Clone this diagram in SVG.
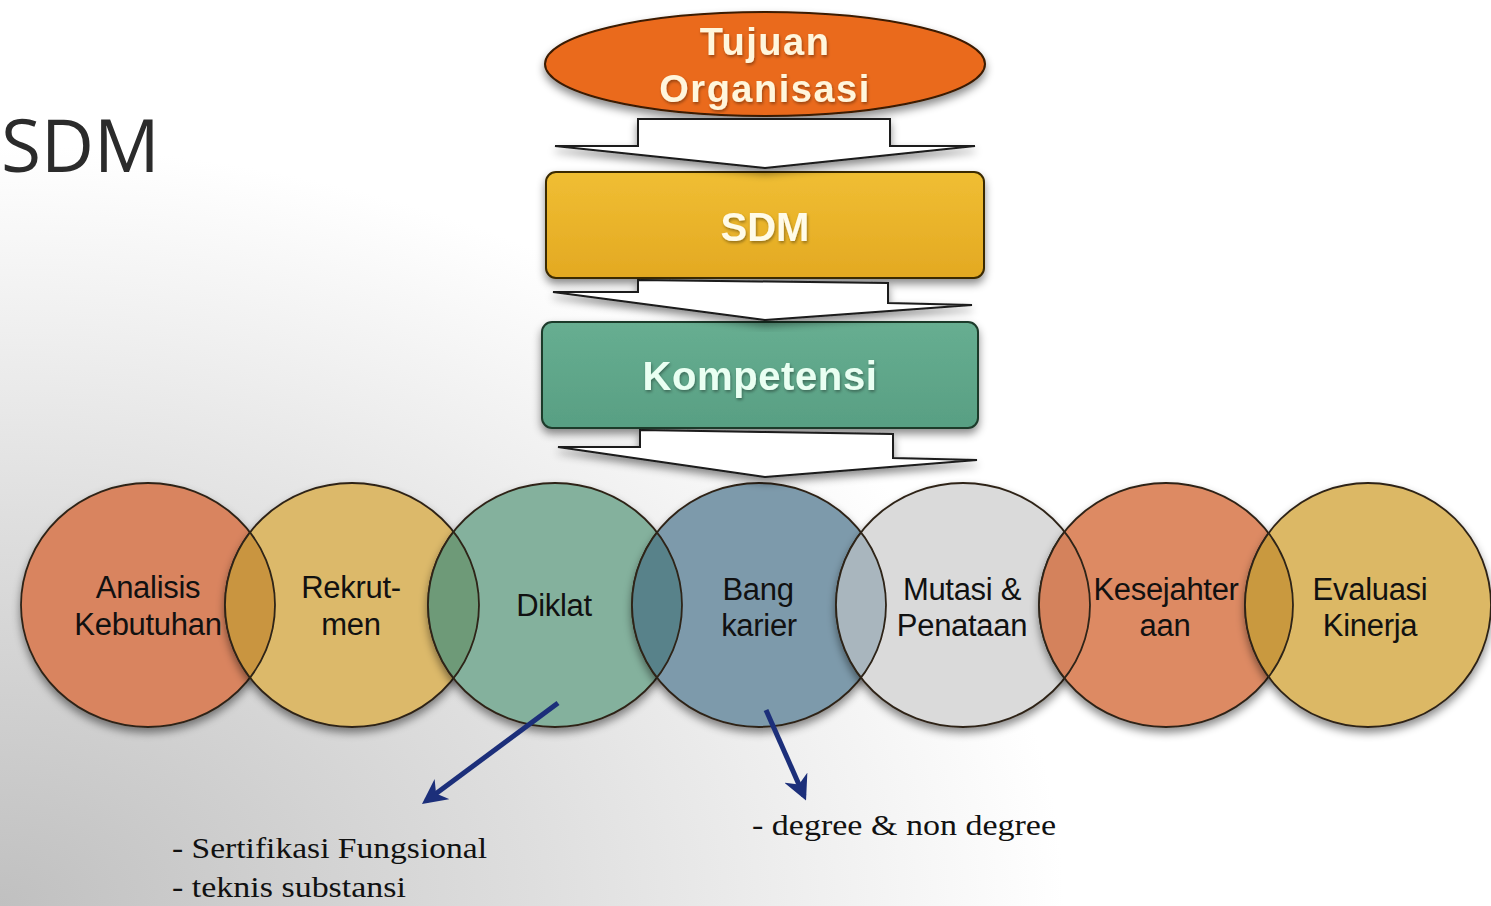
<svg xmlns="http://www.w3.org/2000/svg" width="1491" height="906" viewBox="0 0 1491 906">
<style>
.ct{font-family:"Liberation Sans",Arial,sans-serif;font-size:31px;fill:#111;text-anchor:middle;letter-spacing:-0.3px}
.bt{font-family:"Liberation Sans",Arial,sans-serif;font-weight:bold;text-anchor:middle}
.st{font-family:"Liberation Serif","Times New Roman",serif;font-size:29px;fill:#111}
.ol{stroke:#2e2418;stroke-width:1.8}
.blk{fill:#fff;stroke:#1a1a1a;stroke-width:2;stroke-linejoin:miter}
.ba{stroke:#1c2f7a;stroke-width:5;fill:none;marker-end:url(#ah)}
</style>
<defs>
<radialGradient id="bg" gradientUnits="userSpaceOnUse" cx="0" cy="906" r="760" gradientTransform="translate(0 906) scale(1.4 1) translate(0 -906)">
<stop offset="0" stop-color="#c0c0c0"/>
<stop offset="0.5" stop-color="#dedede"/>
<stop offset="1" stop-color="#ffffff"/>
</radialGradient>
<linearGradient id="gy" x1="0" y1="0" x2="0" y2="1">
<stop offset="0" stop-color="#f0be33"/>
<stop offset="1" stop-color="#e3a922"/>
</linearGradient>
<linearGradient id="gg" x1="0" y1="0" x2="0" y2="1">
<stop offset="0" stop-color="#67ae91"/>
<stop offset="1" stop-color="#589f83"/>
</linearGradient>
<filter id="sh" x="-20%" y="-20%" width="140%" height="150%">
<feDropShadow dx="0" dy="5" stdDeviation="4" flood-color="#000" flood-opacity="0.45"/>
</filter>
<filter id="ts" x="-10%" y="-30%" width="120%" height="160%">
<feDropShadow dx="1" dy="2" stdDeviation="1.5" flood-color="#000" flood-opacity="0.35"/>
</filter>
<marker id="ah" viewBox="0 0 10 10" refX="8" refY="5" markerWidth="5" markerHeight="5" orient="auto" markerUnits="strokeWidth">
<path d="M0,0 L10,5 L0,10 L3,5 z" fill="#1c2f7a"/>
</marker>
<clipPath id="c1"><ellipse cx="148" cy="605" rx="127" ry="122"/></clipPath>
<clipPath id="c2"><ellipse cx="352" cy="605" rx="127" ry="122"/></clipPath>
<clipPath id="c3"><ellipse cx="555" cy="605" rx="127" ry="122"/></clipPath>
<clipPath id="c4"><ellipse cx="759" cy="605" rx="127" ry="122"/></clipPath>
<clipPath id="c5"><ellipse cx="963" cy="605" rx="127" ry="122"/></clipPath>
<clipPath id="c6"><ellipse cx="1166" cy="605" rx="127" ry="122"/></clipPath>
<clipPath id="c7"><ellipse cx="1368" cy="605" rx="123" ry="122"/></clipPath>
</defs>

<rect x="0" y="0" width="1491" height="906" fill="url(#bg)"/>

<text x="1" y="172" font-family="'Open Sans','Liberation Sans',sans-serif" font-size="73" fill="#2b2b2b">SDM</text>

<g id="tujuan">
<ellipse cx="765" cy="64" rx="220" ry="52" fill="#ea6a1d" stroke="#3a1a05" stroke-width="2" filter="url(#sh)"/>
<text class="bt" x="765" y="55" font-size="38" fill="#fff6dc" letter-spacing="1.5" filter="url(#ts)">Tujuan</text>
<text class="bt" x="765" y="102" font-size="38" fill="#fff6dc" letter-spacing="1.5" filter="url(#ts)">Organisasi</text>
</g>

<g id="sdm">
<rect x="546" y="172" width="438" height="106" rx="10" fill="url(#gy)" stroke="#3a2a05" stroke-width="2" filter="url(#sh)"/>
<text class="bt" x="765" y="241" font-size="40" fill="#fffbe8" filter="url(#ts)">SDM</text>
</g>

<g id="kompetensi">
<rect x="542" y="322" width="436" height="106" rx="10" fill="url(#gg)" stroke="#1e3a2c" stroke-width="2" filter="url(#sh)"/>
<text class="bt" x="760" y="390" font-size="40" fill="#eafff2" letter-spacing="0.6" filter="url(#ts)">Kompetensi</text>
</g>

<g id="analisis">
<ellipse class="ol" cx="148" cy="605" rx="127" ry="122" fill="#d9845f" filter="url(#sh)"/>
<text class="ct" x="148" y="598">Analisis</text>
<text class="ct" x="148" y="635">Kebutuhan</text>
</g>
<g id="rekrutmen">
<ellipse class="ol" cx="352" cy="605" rx="127" ry="122" fill="#dcb96a" filter="url(#sh)"/>
<text class="ct" x="351" y="598">Rekrut-</text>
<text class="ct" x="351" y="635">men</text>
</g>
<g id="diklat">
<ellipse class="ol" cx="555" cy="605" rx="127" ry="122" fill="#84b19d" filter="url(#sh)"/>
<text class="ct" x="554" y="616">Diklat</text>
</g>
<g id="bangkarier">
<ellipse class="ol" cx="759" cy="605" rx="127" ry="122" fill="#7d9aab" filter="url(#sh)"/>
<text class="ct" x="758" y="600">Bang</text>
<text class="ct" x="759" y="636">karier</text>
</g>
<g id="mutasi">
<ellipse class="ol" cx="963" cy="605" rx="127" ry="122" fill="#dadada" filter="url(#sh)"/>
<text class="ct" x="962" y="600">Mutasi &amp;</text>
<text class="ct" x="962" y="636">Penataan</text>
</g>
<g id="kesejahteraan">
<ellipse class="ol" cx="1166" cy="605" rx="127" ry="122" fill="#dd8a64" filter="url(#sh)"/>
<text class="ct" x="1166" y="600">Kesejahter</text>
<text class="ct" x="1165" y="636">aan</text>
</g>
<g id="evaluasi">
<ellipse class="ol" cx="1368" cy="605" rx="123" ry="122" fill="#dcb865" filter="url(#sh)"/>
<text class="ct" x="1370" y="600">Evaluasi</text>
<text class="ct" x="1370" y="636">Kinerja</text>
</g>

<g id="overlaps">
<ellipse class="ol" cx="352" cy="605" rx="127" ry="122" fill="#c99540" clip-path="url(#c1)"/>
<ellipse class="ol" cx="148" cy="605" rx="127" ry="122" fill="none" clip-path="url(#c2)"/>
<ellipse class="ol" cx="555" cy="605" rx="127" ry="122" fill="#6e9a78" clip-path="url(#c2)"/>
<ellipse class="ol" cx="352" cy="605" rx="127" ry="122" fill="none" clip-path="url(#c3)"/>
<ellipse class="ol" cx="759" cy="605" rx="127" ry="122" fill="#58828a" clip-path="url(#c3)"/>
<ellipse class="ol" cx="555" cy="605" rx="127" ry="122" fill="none" clip-path="url(#c4)"/>
<ellipse class="ol" cx="963" cy="605" rx="127" ry="122" fill="#a9b6be" clip-path="url(#c4)"/>
<ellipse class="ol" cx="759" cy="605" rx="127" ry="122" fill="none" clip-path="url(#c5)"/>
<ellipse class="ol" cx="1166" cy="605" rx="127" ry="122" fill="#d4825c" clip-path="url(#c5)"/>
<ellipse class="ol" cx="963" cy="605" rx="127" ry="122" fill="none" clip-path="url(#c6)"/>
<ellipse class="ol" cx="1368" cy="605" rx="123" ry="122" fill="#c9993f" clip-path="url(#c6)"/>
<ellipse class="ol" cx="1166" cy="605" rx="127" ry="122" fill="none" clip-path="url(#c7)"/>
</g>

<g id="connectors">
<polygon class="blk" filter="url(#sh)" points="638,119 890,119 890,146 975,146 765,168 555,146 638,146"/>
<polygon class="blk" filter="url(#sh)" points="638,280 888,283 888,303 972,305 765,320 553,292 638,292"/>
<polygon class="blk" filter="url(#sh)" points="640,430 893,434 893,458 977,460 765,477 558,447 640,447"/>
<line class="ba" x1="558" y1="703" x2="426" y2="801"/>
<line class="ba" x1="766" y1="710" x2="804" y2="796"/>
</g>

<g id="notes">
<text class="st" x="172" y="858" textLength="315" lengthAdjust="spacingAndGlyphs">- Sertifikasi Fungsional</text>
<text class="st" x="172" y="897" textLength="234" lengthAdjust="spacingAndGlyphs">- teknis substansi</text>
<text class="st" x="752" y="835" textLength="304" lengthAdjust="spacingAndGlyphs">- degree &amp; non degree</text>
</g>
</svg>
